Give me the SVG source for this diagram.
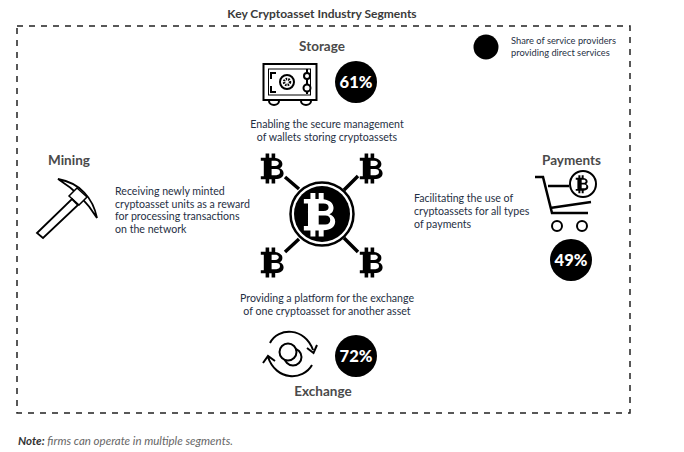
<svg xmlns="http://www.w3.org/2000/svg" width="684" height="452" viewBox="0 0 684 452">
<style>
text{font-family:Lato,"Open Sans","Liberation Sans",sans-serif;fill:#404040;font-size:10px}
.h{font-weight:700;font-size:13.500px;fill:#4a4a4a}
.t{font-weight:700;font-size:12px;fill:#3a3a3a}
.d{fill:#1f3044;font-size:10.600px}
.s{fill:#1f3044;font-size:9.300px}
.m{text-anchor:middle}
.p{font-weight:900;font-size:16.500px;fill:#fff;text-anchor:middle}
.l{fill:none;stroke:#000;stroke-width:2}
.c{stroke:#000;stroke-width:3.500;fill:none}
</style>
<defs>
<path id="btc" fill-rule="evenodd" d="M-7-14h3v4h2v-4h3v4.200c4 .6 6 3 6 5.800 0 2-1 3.500-2.500 4.200 2.300.8 3.500 2.800 3.500 4.800 0 3.500-2.500 5.500-7 5.800v4.200h-3v-4h-2v4h-3v-4h-4v-3h2.500v-15h-2.500v-3h4zM-2-7v5h3c2 0 3-1 3-2.500s-1-2.500-3-2.500zM-2 1v6h4c2 0 3-1.200 3-3s-1-3-3-3z"/>
</defs>
<text class="t m" x="322" y="18">Key Cryptoasset Industry Segments</text>
<rect x="17" y="26" width="613" height="387" fill="none" stroke="#222" stroke-width="1.500" stroke-dasharray="6 6"/>
<g id="legend">
<circle cx="486" cy="47" r="12.500"/>
<text class="s" x="511" y="44">Share of service providers</text>
<text class="s" x="511" y="56">providing direct services</text>
</g>
<g id="storage">
<text class="h m" x="322" y="51">Storage</text>
<rect x="263.500" y="64" width="53" height="36" class="l"/>
<rect x="268.500" y="69" width="42" height="26" fill="none" stroke="#000" stroke-width="1"/>
<path class="l" d="M276 73H271V79M271 86V92H276"/>
<circle cx="287" cy="82" r="7" class="l"/><circle cx="287" cy="82" r="3" fill="none" stroke="#000" stroke-width="2.500" stroke-dasharray="1.500 1"/>
<circle cx="307" cy="76" r="3" fill="#fff" stroke="#000" stroke-width="2"/><circle cx="307" cy="88" r="3.500" fill="#fff" stroke="#000" stroke-width="2"/>
<path class="l" d="M307 79V84.500M307 69V73M307 91.500V94"/>
<path class="l" d="M269 101a5 4 0 0 0 10 0M301 101a5 4 0 0 0 10 0"/>
<circle cx="356" cy="82" r="21"/><text class="p" x="356" y="88">61%</text>
<text class="d m" x="327" y="128">Enabling the secure management</text>
<text class="d m" x="327" y="141">of wallets storing cryptoassets</text>
</g>
<g id="hub">
<circle cx="322" cy="214" r="31.500" fill="#fff" stroke="#000" stroke-width="2.500"/>
<circle cx="322" cy="214" r="28"/>
<use href="#btc" transform="translate(322 214) scale(1.650 1.500)" fill="#fff"/>
<use href="#btc" transform="translate(274 168) scale(1.200 1.030)"/>
<use href="#btc" transform="translate(373 168) scale(1.200 1.030)"/>
<use href="#btc" transform="translate(274 262) scale(1.200 1.030)"/>
<use href="#btc" transform="translate(373 262) scale(1.200 1.030)"/>
</g>
<g id="connectors">
<path class="c" d="M285 177L299 189M358 176L344 190M285 252L299 239M358 252L344 238"/>
</g>
<g id="mining">
<text class="h" x="48" y="165">Mining</text>
<path d="M58 179C80 183 93 198 97 218C88 203 74 189 58 179Z" stroke="#000" stroke-width="1.800" fill="#fff"/>
<path d="M69 196L77 188L87 197L79 205Z" fill="#fff" stroke="#000" stroke-width="1.500"/>
<path d="M37 233L72 199L78 205L43 238Z" fill="#fff" stroke="#000" stroke-width="1.800"/>
<text class="d" x="115" y="195">Receiving newly minted</text>
<text class="d" x="115" y="207.500">cryptoasset units as a reward</text>
<text class="d" x="115" y="220">for processing transactions</text>
<text class="d" x="115" y="233">on the network</text>
</g>
<g id="payments">
<text class="h" x="542" y="165">Payments</text>
<path d="M535 177H543L552 213H588M548 186H569M550 208L591 202" fill="none" stroke="#000" stroke-width="2.500"/>
<circle cx="583" cy="184" r="13" class="l"/>
<use href="#btc" transform="translate(583 184) scale(.66 .62)"/>
<circle cx="557" cy="226" r="5" class="l"/><circle cx="582" cy="226" r="5" class="l"/>
<circle cx="571" cy="260" r="21"/><text class="p" x="571" y="266">49%</text>
<text class="d" x="414" y="202">Facilitating the use of</text>
<text class="d" x="414" y="215">cryptoassets for all types</text>
<text class="d" x="414" y="228">of payments</text>
</g>
<g id="exchange">
<text class="d m" x="327" y="302">Providing a platform for the exchange</text>
<text class="d m" x="327" y="315">of one cryptoasset for another asset</text>
<path class="l" d="M270 343C278 327 305 327 313 350M317 345L313.500 353L307 348M312 365C303 381 276 381 268 357M263 363L268 356L275 361"/>
<circle cx="293" cy="357" r="8.500" class="l"/><circle cx="288" cy="352" r="8.500" fill="#fff" stroke="#000" stroke-width="2"/>
<circle cx="356" cy="356" r="21"/><text class="p" x="356" y="362">72%</text>
<text class="h m" x="323" y="396">Exchange</text>
</g>
<text x="18" y="445" style="font-size:11.500px;font-style:italic;fill:#666"><tspan style="font-weight:700;fill:#333">Note:</tspan> firms can operate in multiple segments.</text>
</svg>
